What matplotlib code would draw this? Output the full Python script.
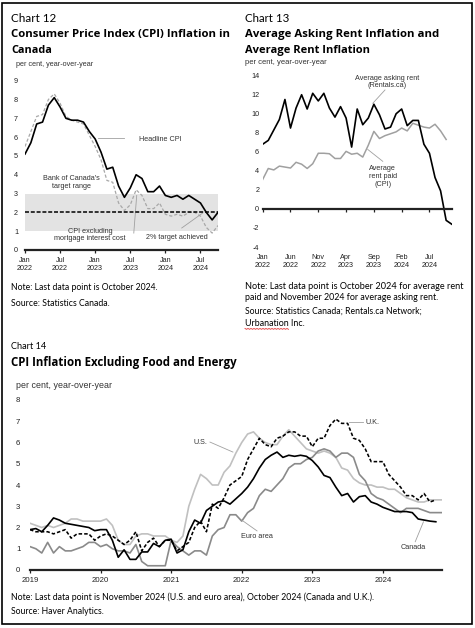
import numpy as np
import matplotlib
matplotlib.use("Agg")
import matplotlib.pyplot as plt
from matplotlib.lines import Line2D

# ---------------- data ----------------
# Chart 12: Jan 2022 - Oct 2024, monthly
c12_headline = [5.1, 5.7, 6.7, 6.8, 7.7, 8.1, 7.6, 7.0, 6.9, 6.9, 6.8, 6.3,
                5.9, 5.2, 4.3, 4.4, 3.4, 2.8, 3.3, 4.0, 3.8, 3.1, 3.1, 3.4,
                2.9, 2.8, 2.9, 2.7, 2.9, 2.7, 2.5, 2.0, 1.6, 2.0]
c12_ex_mic = [5.5, 6.3, 7.1, 7.2, 8.0, 8.3, 7.8, 7.1, 6.9, 6.8, 6.7, 6.1,
              5.5, 4.8, 3.7, 3.6, 2.5, 2.1, 2.4, 3.2, 2.9, 2.2, 2.2, 2.5,
              1.9, 1.8, 1.9, 1.8, 2.0, 2.0, 1.8, 1.2, 0.9, 1.3]
c12_target = 2.0
c12_band = (1.0, 3.0)
c12_xticks = [0, 6, 12, 18, 24, 30]
c12_xlabels = ["Jan\n2022", "Jul\n2022", "Jan\n2023", "Jul\n2023", "Jan\n2024", "Jul\n2024"]

# Chart 13: asking rent Jan 2022 - Nov 2024, rent paid Jan 2022 - Oct 2024
c13_asking = [6.8, 7.2, 8.3, 9.4, 11.5, 8.5, 10.6, 12.0, 10.5, 12.15, 11.35, 12.15,
              10.6, 9.65, 10.75, 9.55, 6.5, 10.5, 8.85, 9.55, 11.0, 9.9, 8.4, 8.6,
              10.0, 10.5, 8.75, 9.3, 9.3, 6.8, 5.85, 3.3, 1.9, -1.2, -1.6]
c13_paid = [3.1, 4.25, 4.1, 4.5, 4.4, 4.3, 4.9, 4.7, 4.25, 4.75, 5.85, 5.85,
            5.8, 5.3, 5.3, 6.05, 5.75, 5.85, 5.45, 6.7, 8.15, 7.4, 7.7, 7.9,
            8.1, 8.5, 8.2, 9.0, 8.8, 8.6, 8.5, 8.9, 8.2, 7.3]
c13_xticks = [0, 5, 10, 15, 20, 25, 30]
c13_xlabels = ["Jan\n2022", "Jun\n2022", "Nov\n2022", "Apr\n2023", "Sep\n2023", "Feb\n2024", "Jul\n2024"]

# Chart 14: Jan 2019 - Nov 2024 (U.S., euro area), Jan 2019 - Oct 2024 (Canada, U.K.)
c14_us = [2.2, 2.1, 2.0, 2.1, 2.0, 2.1, 2.2, 2.4, 2.4, 2.3, 2.3, 2.3,
          2.3, 2.4, 2.1, 1.4, 1.2, 1.2, 1.6, 1.7, 1.7, 1.6, 1.6, 1.6,
          1.4, 1.3, 1.6, 3.0, 3.8, 4.5, 4.3, 4.0, 4.0, 4.6, 4.9, 5.5,
          6.0, 6.4, 6.5, 6.2, 6.0, 5.9, 5.9, 6.3, 6.6, 6.3, 6.0, 5.7,
          5.6, 5.5, 5.6, 5.5, 5.3, 4.8, 4.7, 4.3, 4.1, 4.0, 4.0, 3.9,
          3.9, 3.8, 3.8, 3.6, 3.4, 3.3, 3.2, 3.2, 3.3, 3.3, 3.3]
c14_euro = [1.1, 1.0, 0.8, 1.3, 0.8, 1.1, 0.9, 0.9, 1.0, 1.1, 1.3, 1.3,
            1.1, 1.2, 1.0, 0.9, 0.9, 0.8, 1.2, 0.4, 0.2, 0.2, 0.2, 0.2,
            1.4, 1.1, 0.9, 0.7, 0.9, 0.9, 0.7, 1.6, 1.9, 2.0, 2.6, 2.6,
            2.3, 2.7, 2.9, 3.5, 3.8, 3.7, 4.0, 4.3, 4.8, 5.0, 5.0, 5.2,
            5.3, 5.6, 5.7, 5.6, 5.3, 5.5, 5.5, 5.3, 4.5, 4.2, 3.6, 3.4,
            3.3, 3.1, 2.9, 2.7, 2.9, 2.9, 2.9, 2.8, 2.7, 2.7, 2.7]
c14_canada = [1.9, 1.95, 1.8, 2.1, 2.45, 2.35, 2.2, 2.15, 2.1, 2.05, 2.0, 1.85,
              1.9, 1.9, 1.4, 0.6, 0.95, 0.5, 0.5, 0.85, 0.85, 1.25, 1.1, 1.4,
              1.45, 0.8, 0.95, 1.8, 2.35, 2.2, 2.8, 3.0, 3.2, 3.25, 3.1, 3.35,
              3.6, 3.9, 4.3, 4.8, 5.2, 5.4, 5.55, 5.3, 5.4, 5.35, 5.4, 5.35,
              5.15, 4.85, 4.45, 4.35, 3.9, 3.5, 3.6, 3.2, 3.45, 3.5, 3.2, 3.1,
              2.95, 2.85, 2.75, 2.75, 2.75, 2.7, 2.4, 2.35, 2.3, 2.27]
c14_uk = [1.9, 1.8, 1.8, 1.8, 1.7, 1.8, 1.9, 1.5, 1.7, 1.7, 1.7, 1.4,
          1.6, 1.7, 1.6, 1.4, 1.2, 1.4, 1.8, 0.9, 1.3, 1.5, 1.1, 1.4,
          1.4, 0.9, 1.1, 1.3, 2.0, 2.3, 1.8, 3.1, 2.9, 3.4, 4.0, 4.2,
          4.4, 5.2, 5.7, 6.2, 5.9, 5.8, 6.2, 6.3, 6.5, 6.5, 6.3, 6.3,
          5.8, 6.2, 6.2, 6.8, 7.1, 6.9, 6.9, 6.2, 6.1, 5.7, 5.1, 5.1,
          5.1, 4.5, 4.2, 3.9, 3.5, 3.5, 3.3, 3.6, 3.2, 3.3]
c14_xticks = [0, 12, 24, 36, 48, 60]
c14_xlabels = ["2019", "2020", "2021", "2022", "2023", "2024"]

# ---------------- layout helpers ----------------
W, H = 475, 628
plt.rcParams["font.family"] = "Liberation Sans"
plt.rcParams["axes.unicode_minus"] = False
fig = plt.figure(figsize=(W / 100, H / 100), dpi=100)
renderer = fig.canvas.get_renderer()

TICK = 5.2
INK = "#222222"


def fx(px):
    return px / W


def fy(py):
    return 1 - py / H


def label(x, y, s, width=None, size=8, **kw):
    t = fig.text(fx(x), fy(y), s, fontsize=size, va="baseline", **kw)
    if width:
        w = t.get_window_extent(renderer).width
        t.set_fontsize(size * width / w)
    return t


def panel(x0, x1, ytop, ybot):
    return fig.add_axes([fx(x0), fy(ybot), (x1 - x0) / W, (ybot - ytop) / H])


def style(ax, xticks, xlabels, yticks, ypad, xpad):
    for s in ["top", "right", "left"]:
        ax.spines[s].set_visible(False)
    ax.spines["bottom"].set_linewidth(1.6)
    ax.spines["bottom"].set_color(INK)
    ax.spines["bottom"].set_zorder(5)
    ax.set_xticks(xticks, xlabels)
    ax.set_yticks(yticks)
    ax.tick_params(axis="y", length=0, pad=ypad, labelsize=TICK, labelcolor=INK)
    ax.tick_params(axis="x", length=2.2, width=0.9, color=INK, direction="out",
                   pad=xpad, labelsize=TICK, labelcolor=INK)
    ax.patch.set_visible(False)


def note(ax, x, y, s):
    ax.text(x, y, s, ha="center", va="center", fontsize=TICK, color="#333333",
            linespacing=1.15, clip_on=False)


def leader(ax, xs, ys):
    ax.plot(xs, ys, color="#a0a0a0", lw=0.6, clip_on=False)


# ---------------- Chart 12 ----------------
label(11, 21.7, "Chart 12", width=45, family="Lato")
label(11, 37.3, "Consumer Price Index (CPI) Inflation in", width=219,
      family="Open Sans", weight="bold")
label(11, 53.3, "Canada", width=41, family="Open Sans", weight="bold")
label(16, 66.5, "per cent, year-over-year", width=78, color="#333333")

ax = panel(25, 218, 80.7, 250)
x12 = np.arange(len(c12_headline))
ax.axhspan(*c12_band, color="#e3e3e3", lw=0, zorder=0)
ax.axhline(c12_target, color="black", lw=1.1, ls=(0, (2.6, 1.2)), zorder=3)
ax.plot(x12, c12_ex_mic, color="#a8a8a8", lw=0.9, ls=(0, (2.6, 1.6)), zorder=2)
ax.plot(x12, c12_headline, color="black", lw=1.2, zorder=4)
ax.set_xlim(0, len(x12) - 1)
ax.set_ylim(0, 9)
style(ax, c12_xticks, c12_xlabels, range(0, 10), ypad=5, xpad=2.5)
leader(ax, [12.5, 16.9], [5.96, 5.96])
note(ax, 23.2, 5.9, "Headline CPI")
note(ax, 8.0, 3.6, "Bank of Canada's\ntarget range")
leader(ax, [18.6, 19.1], [0.9, 2.9])
note(ax, 11.1, 0.8, "CPI excluding\nmortgage interest cost")
leader(ax, [26.8, 30.4], [1.17, 1.97])
note(ax, 26.0, 0.69, "2% target achieved")

label(11, 290, "Note: Last data point is October 2024.", width=147, family="Lato")
label(11, 305.5, "Source: Statistics Canada.", width=99, family="Lato")

# ---------------- Chart 13 ----------------
label(245, 21.7, "Chart 13", width=44.3, family="Lato")
label(245, 37.3, "Average Asking Rent Inflation and", width=194,
      family="Open Sans", weight="bold")
label(245, 52.7, "Average Rent Inflation", width=125,
      family="Open Sans", weight="bold")
label(245, 64.5, "per cent, year-over-year", width=82, color="#333333")

ax = panel(262.7, 451.7, 75.7, 247)
ax.plot(np.arange(len(c13_paid)), c13_paid, color="#a0a0a0", lw=1.1, zorder=2)
ax.plot(np.arange(len(c13_asking)), c13_asking, color="black", lw=1.2, zorder=3)
ax.set_xlim(0, len(c13_asking) - 1)
ax.set_ylim(-4, 14)
style(ax, c13_xticks, c13_xlabels, range(-4, 16, 2), ypad=2.5, xpad=30)
ax.spines["bottom"].set_position(("data", 0))
leader(ax, [22.0, 19.8], [12.5, 11.1])
note(ax, 22.4, 13.35, "Average asking rent\n(Rentals.ca)")
leader(ax, [18.9, 21.6], [6.25, 5.0])
note(ax, 21.6, 3.4, "Average\nrent paid\n(CPI)")

label(245, 289.3, "Note: Last data point is October 2024 for average rent",
      width=221, family="Lato")
label(245, 300.5, "paid and November 2024 for average asking rent.",
      width=195, family="Lato")
label(245, 314, "Source: Statistics Canada; Rentals.ca Network;",
      width=178, family="Lato")
urb = label(245, 326, "Urbanation Inc.", width=60, family="Lato")
# red spell-check squiggle under "Urbanation"
probe = fig.text(fx(245), fy(326), "Urbanation", fontsize=urb.get_fontsize(),
                 family="Lato", va="baseline", alpha=0)
uw = probe.get_window_extent(renderer).width
zx = np.arange(0, uw + 1, 1.5)
zy = 328.5 + 0.8 * (np.arange(len(zx)) % 2)
fig.add_artist(Line2D(fx(245 + zx), fy(zy), color="#e03030", lw=0.6))

# ---------------- Chart 14 ----------------
label(11, 349.3, "Chart 14", width=35.7, family="Lato")
label(11, 366, "CPI Inflation Excluding Food and Energy", width=227,
      family="Open Sans", weight="bold")
label(16, 388, "per cent, year-over-year", width=95.7, color="#333333")

ax = panel(30, 441.7, 400, 570)
ax.plot(np.arange(len(c14_us)), c14_us, color="#c0c0c0", lw=1.2, zorder=2)
ax.plot(np.arange(len(c14_euro)), c14_euro, color="#8a8a8a", lw=1.2, zorder=2)
ax.plot(np.arange(len(c14_uk)), c14_uk, color="black", lw=1.15,
        ls=(0, (2.2, 1.3)), zorder=3)
ax.plot(np.arange(len(c14_canada)), c14_canada, color="black", lw=1.2, zorder=4)
ax.set_xlim(0, len(c14_us) - 1)
ax.set_ylim(0, 8)
style(ax, c14_xticks, c14_xlabels, range(0, 9), ypad=7, xpad=3)
ax.tick_params(axis="x", labelsize=5.6)
ax.tick_params(axis="y", labelsize=5.6)
leader(ax, [30.6, 34.5], [6.02, 5.55])
note(ax, 28.9, 6.0, "U.S.")
leader(ax, [54.3, 56.6], [6.96, 6.96])
note(ax, 58.2, 6.96, "U.K.")
leader(ax, [36.0, 38.6], [2.35, 1.84])
note(ax, 38.6, 1.6, "Euro area")
leader(ax, [65.5, 66.9], [1.33, 2.27])
note(ax, 65.1, 1.07, "Canada")

label(11, 599.5, "Note: Last data point is November 2024 (U.S. and euro area), "
      "October 2024 (Canada and U.K.).", width=367, family="Lato")
label(11, 614.5, "Source: Haver Analytics.", width=92.3, family="Lato")

# outer frame
fig.add_artist(plt.Rectangle((fx(2), fy(624)), 470 / W, 621 / H, fill=False,
                             lw=1.2, edgecolor="black", transform=fig.transFigure))

fig.savefig("out.png", dpi=100)
